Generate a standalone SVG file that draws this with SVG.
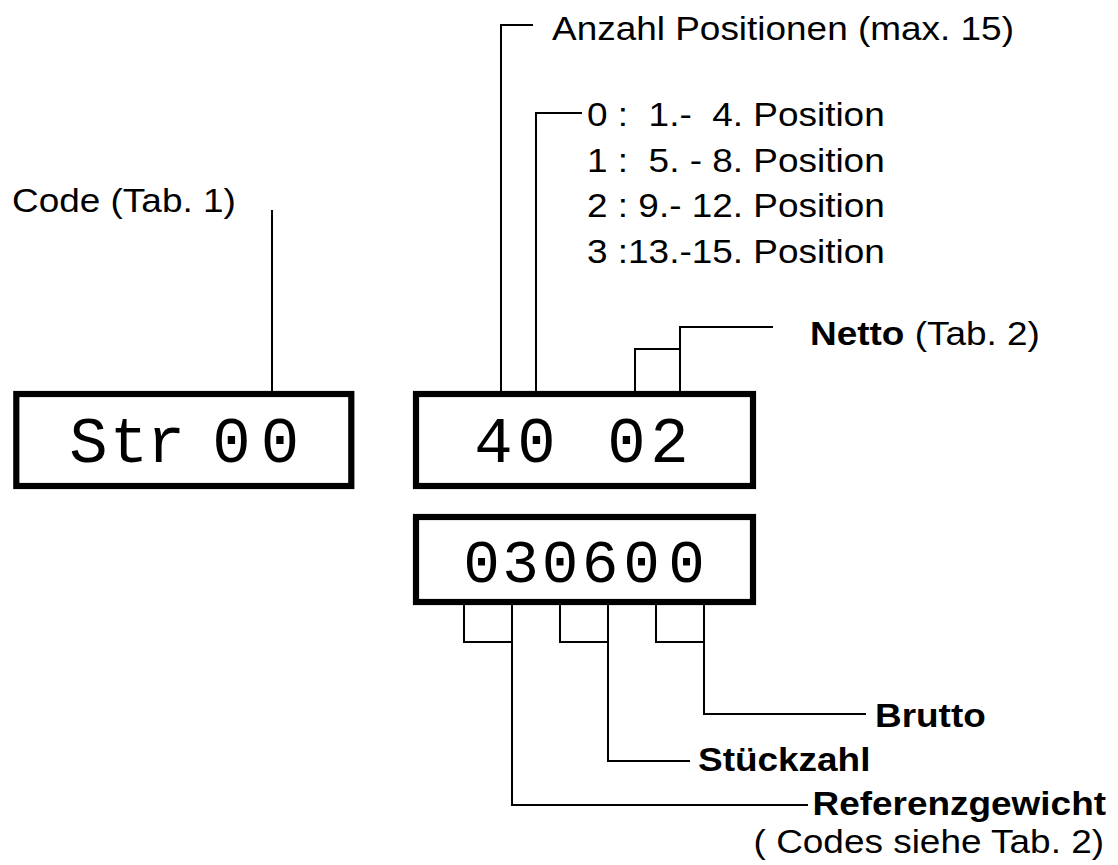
<svg xmlns="http://www.w3.org/2000/svg" width="1118" height="865" viewBox="0 0 1118 865">
<style>
.box{fill:#fff;stroke:#000;stroke-width:6.2}
.seg{font-family:"Liberation Mono","DejaVu Sans Mono",monospace;font-size:64px;fill:#000;text-anchor:middle}
.lbl{font-family:"Liberation Sans",Arial,sans-serif;font-size:33px;fill:#000}
.b{font-weight:bold}
.end{text-anchor:end}
.con{fill:none;stroke:#000;stroke-width:2}
</style>
<rect width="1118" height="865" fill="#fff"/>
<g id="connectors">
<polyline class="con" points="272,210 272,391"/>
<polyline class="con" points="533,25 501,25 501,391"/>
<polyline class="con" points="582,113 536,113 536,391"/>
<polyline class="con" points="773,327 680,327 680,391"/>
<polyline class="con" points="635,391 635,349 680,349"/>
<polyline class="con" points="464,605 464,642 512,642"/>
<polyline class="con" points="512,605 512,805 808,805"/>
<polyline class="con" points="560,605 560,642 608,642"/>
<polyline class="con" points="608,605 608,761 690,761"/>
<polyline class="con" points="656,605 656,642 704,642"/>
<polyline class="con" points="704,605 704,714 866,714"/>
</g>
<g id="display-str">
<rect class="box" x="16.3" y="394" width="335" height="92"/>
<text class="seg" x="88.5 129 166 200 231.5 280" y="462">Str 00</text>
</g>
<g id="display-40-02">
<rect class="box" x="416" y="394" width="337" height="92"/>
<text class="seg" x="493.5 536.5 580 626.5 669.5" y="462">40 02</text>
</g>
<g id="display-030600">
<rect class="box" x="416" y="517" width="337" height="85"/>
<text class="seg" x="481.5 520.5 560 600 641.5 686.5" y="582" style="font-size:61px">030600</text>
</g>
<g id="label-code">
<text class="lbl" transform="translate(12,212) scale(1.12,1)">Code (Tab. 1)</text>
</g>
<g id="label-anzahl">
<text class="lbl" transform="translate(552,40) scale(1.12,1)">Anzahl Positionen (max. 15)</text>
</g>
<g id="label-positions">
<text class="lbl" xml:space="preserve" transform="translate(587,126) scale(1.12,1)">0 :  1.-  4. Position</text>
<text class="lbl" xml:space="preserve" transform="translate(587,172) scale(1.12,1)">1 :  5. - 8. Position</text>
<text class="lbl" xml:space="preserve" transform="translate(587,217) scale(1.12,1)">2 : 9.- 12. Position</text>
<text class="lbl" xml:space="preserve" transform="translate(587,263) scale(1.12,1)">3 :13.-15. Position</text>
</g>
<g id="label-netto">
<text class="lbl" transform="translate(810,345) scale(1.12,1)"><tspan class="b">Netto</tspan> (Tab. 2)</text>
</g>
<g id="label-brutto">
<text class="lbl b" transform="translate(875,727) scale(1.12,1)">Brutto</text>
</g>
<g id="label-stueckzahl">
<text class="lbl b" transform="translate(698,771) scale(1.12,1)">Stückzahl</text>
</g>
<g id="label-referenz">
<text class="lbl b end" transform="translate(1106,815) scale(1.12,1)">Referenzgewicht</text>
<text class="lbl end" transform="translate(1104,853) scale(1.12,1)">( Codes siehe Tab. 2)</text>
</g>
</svg>
